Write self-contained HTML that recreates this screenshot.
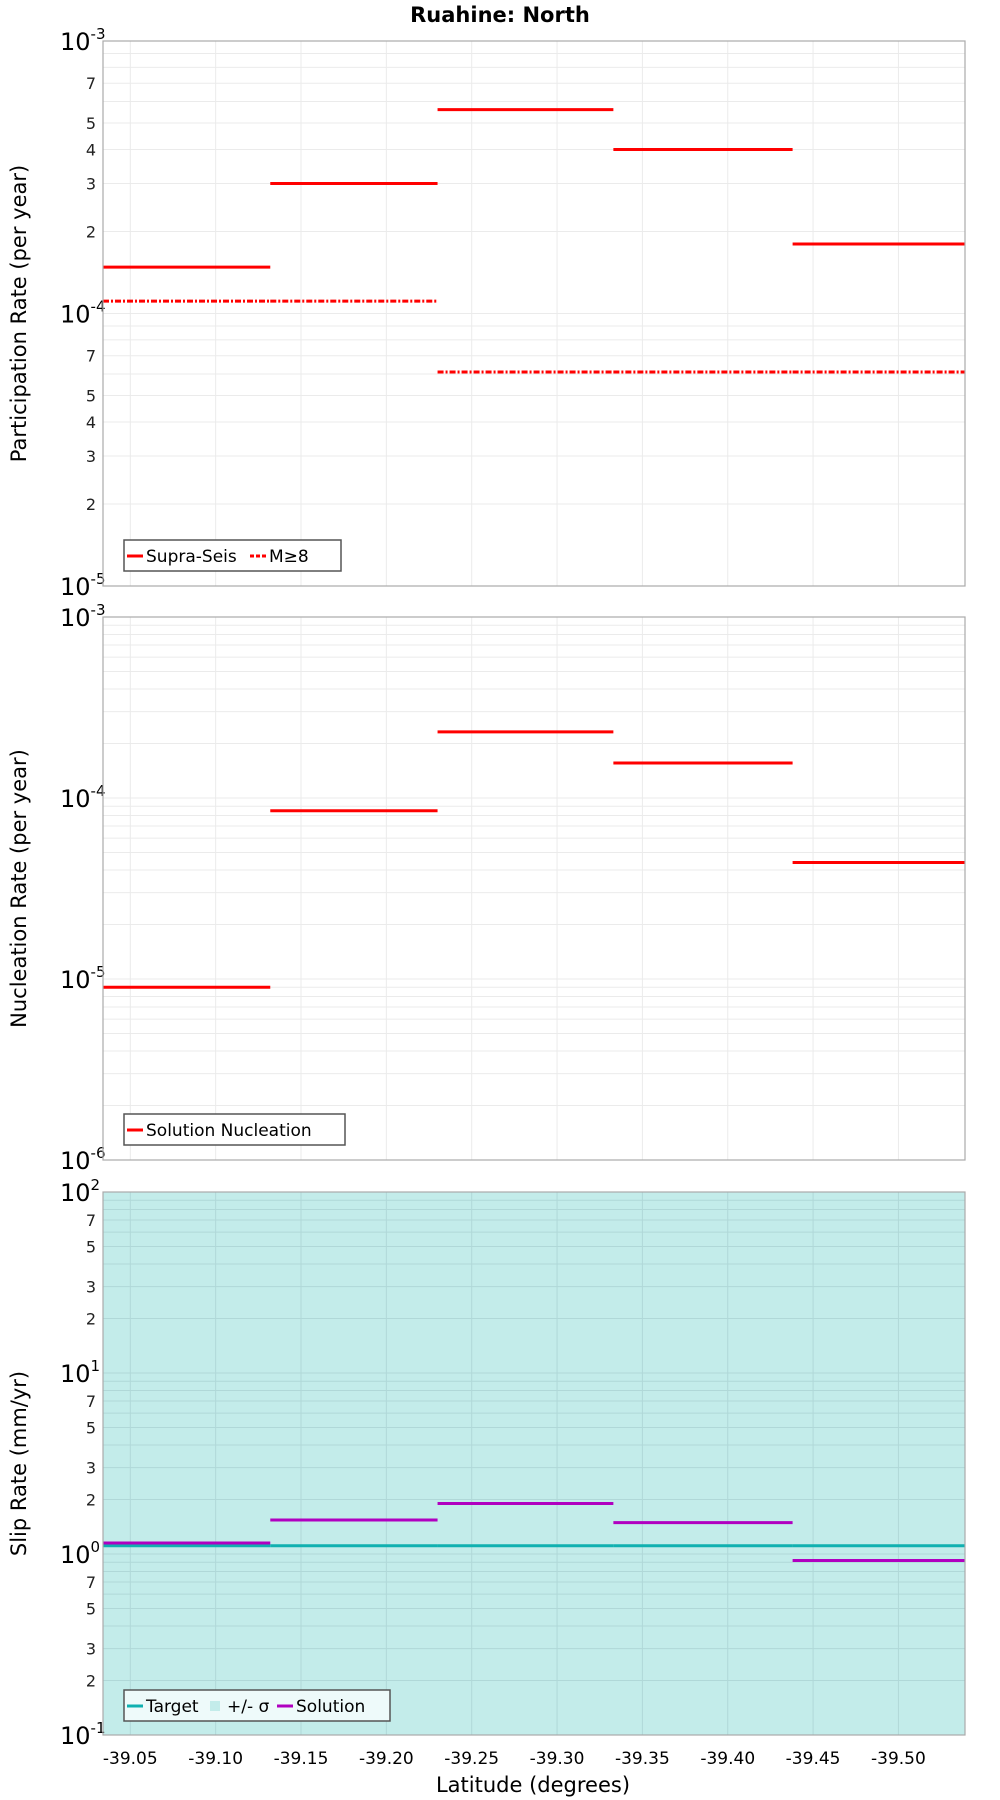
<!DOCTYPE html>
<html><head><meta charset="utf-8"><style>
html,body{margin:0;padding:0;background:#fff;}
svg{display:block;font-family:"DejaVu Sans","Liberation Sans",sans-serif;}
</style></head><body>
<svg id="chart" width="1000" height="1800" viewBox="0 0 1000 1800" xmlns="http://www.w3.org/2000/svg">
<text x="500" y="22" text-anchor="middle" font-size="21" font-weight="bold">Ruahine: North</text>
<text x="533" y="1792" text-anchor="middle" font-size="21">Latitude (degrees)</text>
</svg>
<script>
const latEdges = [-39.034, -39.132, -39.230, -39.333, -39.438, -39.539];
const xTicks = [-39.05, -39.10, -39.15, -39.20, -39.25, -39.30, -39.35, -39.40, -39.45, -39.50];
const partSupra = [1.48e-4, 3.0e-4, 5.6e-4, 4.0e-4, 1.8e-4];
const partM8 = [1.11e-4, 1.11e-4, 6.1e-5, 6.1e-5, 6.1e-5];
const nucl = [9.0e-6, 8.5e-5, 2.32e-4, 1.56e-4, 4.4e-5];
const slipTarget = [1.11, 1.11, 1.11, 1.11, 1.11];
const slipSolution = [1.15, 1.54, 1.9, 1.49, 0.92];

const NS = 'http://www.w3.org/2000/svg';
const svg = document.getElementById('chart');
const X0 = 103, X1 = 965;
function xs(v){ return X0 + (v - latEdges[0]) / (latEdges[latEdges.length-1] - latEdges[0]) * (X1 - X0); }
function mk(tag, attrs, parent){ const e = document.createElementNS(NS, tag); for (const k in attrs) e.setAttribute(k, attrs[k]); (parent||svg).appendChild(e); return e; }

function panel(cfg){
  const g = mk('g', {});
  
  
  const ys = v => cfg.top + (cfg.maxExp - Math.log10(v)) / (cfg.maxExp - cfg.minExp) * (cfg.bottom - cfg.top);
  if (cfg.bg) { const r = mk('rect', {x:X0, y:cfg.top, width:X1-X0, height:cfg.bottom-cfg.top, fill:cfg.bg}, g);
      }
  const gc = cfg.bg ? '#b0d8d8' : '#ebebeb';
  for (let e = cfg.minExp; e < cfg.maxExp; e++) {
    for (let m = 1; m <= 9; m++) {
      const y = ys(m * Math.pow(10, e));
      if (m > 1) mk('line', {x1:X0, x2:X1, y1:y, y2:y, stroke:gc, 'stroke-width':1}, g);
      if (cfg.minorLabels.indexOf(m) >= 0) {
        const t = mk('text', {x:96, y:y+6, 'text-anchor':'end', 'font-size':16, fill:'#222'}, g);
        t.textContent = m;
         
      }
    }
  }
  for (let e = cfg.minExp; e <= cfg.maxExp; e++) {
    const y = ys(Math.pow(10, e));
    mk('line', {x1:X0, x2:X1, y1:y, y2:y, stroke:gc, 'stroke-width':1}, g);
    const t = mk('text', {x:60, y:y+9, 'font-size':24, fill:'#000'}, g);
     
    t.appendChild(document.createTextNode('10'));
    const s = mk('tspan', {dy:-11, 'font-size':15}, t); s.textContent = e;
  }
  xTicks.forEach(v => mk('line', {x1:xs(v), x2:xs(v), y1:cfg.top, y2:cfg.bottom, stroke:gc, 'stroke-width':1}, g));
  cfg.series.forEach(s => {
    s.vals.forEach((v, i) => {
      const l = mk('line', {x1:xs(latEdges[i]), x2:xs(latEdges[i+1]), y1:ys(v), y2:ys(v), stroke:s.color, 'stroke-width':3}, g);
      if (s.dash) l.setAttribute('stroke-dasharray', s.dash);
      
      
    });
  });
  const fr = mk('rect', {x:X0, y:cfg.top, width:X1-X0, height:cfg.bottom-cfg.top, fill:'none', stroke:'#aaa', 'stroke-width':1.2}, g);
   
  const yt = mk('text', {transform:'translate(26,' + ((cfg.top+cfg.bottom)/2) + ') rotate(-90)', 'text-anchor':'middle', 'font-size':21}, g);
  yt.textContent = cfg.ytitle;
   
  const lg = mk('g', {}, g);
   
  mk('rect', {x:124, y:cfg.legY, width:cfg.legW, height:31, fill:cfg.bg ? '#eefafa' : '#fff', stroke:'#555', 'stroke-width':1.5}, lg);
  let lx = 127; const ly = cfg.legY + 16;
  cfg.legend.forEach(it => {
    const ent = mk('g', {}, lg);
     
    if (it.square) mk('rect', {x:lx+2, y:ly-5, width:10, height:10, fill:it.color}, ent);
    else { const l = mk('line', {x1:lx, x2:lx+16, y1:ly, y2:ly, stroke:it.color, 'stroke-width':3}, ent); if (it.dash) l.setAttribute('stroke-dasharray', it.dash); }
    const t = mk('text', {x:lx+19, y:ly+6, 'font-size':17}, ent); t.textContent = it.label;
    lx += 19 + it.w;
  });
  return ys;
}

panel({name:'participation-panel', top:41, bottom:586, minExp:-5, maxExp:-3, minorLabels:[2,3,4,5,7],
  ytitle:'Participation Rate (per year)', legY:540, legW:217,
  series:[{key:'supra-seis', vals:partSupra, color:'#ff0000'},{key:'m8', vals:partM8, color:'#ff0000', dash:'6,2,2,2'}],
  legend:[{label:'Supra-Seis', color:'#ff0000', w:104},{label:'M≥8', color:'#ff0000', dash:'4,2', w:40}]});
panel({name:'nucleation-panel', top:617, bottom:1160, minExp:-6, maxExp:-3, minorLabels:[],
  ytitle:'Nucleation Rate (per year)', legY:1114, legW:221,
  series:[{key:'solution-nucleation', vals:nucl, color:'#ff0000'}],
  legend:[{label:'Solution Nucleation', color:'#ff0000', w:180}]});
panel({name:'slip-rate-panel', top:1192, bottom:1735, minExp:-1, maxExp:2, minorLabels:[2,3,5,7], bg:'#c3ecea',
  ytitle:'Slip Rate (mm/yr)', legY:1690, legW:266,
  series:[{key:'target', vals:slipTarget, color:'#10b0b0'},{key:'solution', vals:slipSolution, color:'#b000c0'}],
  legend:[{label:'Target', color:'#10b0b0', w:62},{label:'+/- σ', color:'#c3ecea', square:true, w:50},{label:'Solution', color:'#b000c0', w:80}]});

xTicks.forEach(v => {
  const t = mk('text', {x:xs(v), y:1764, 'text-anchor':'middle', 'font-size':17});
  t.textContent = v.toFixed(2);
  
  
});
</script>
</body></html>
